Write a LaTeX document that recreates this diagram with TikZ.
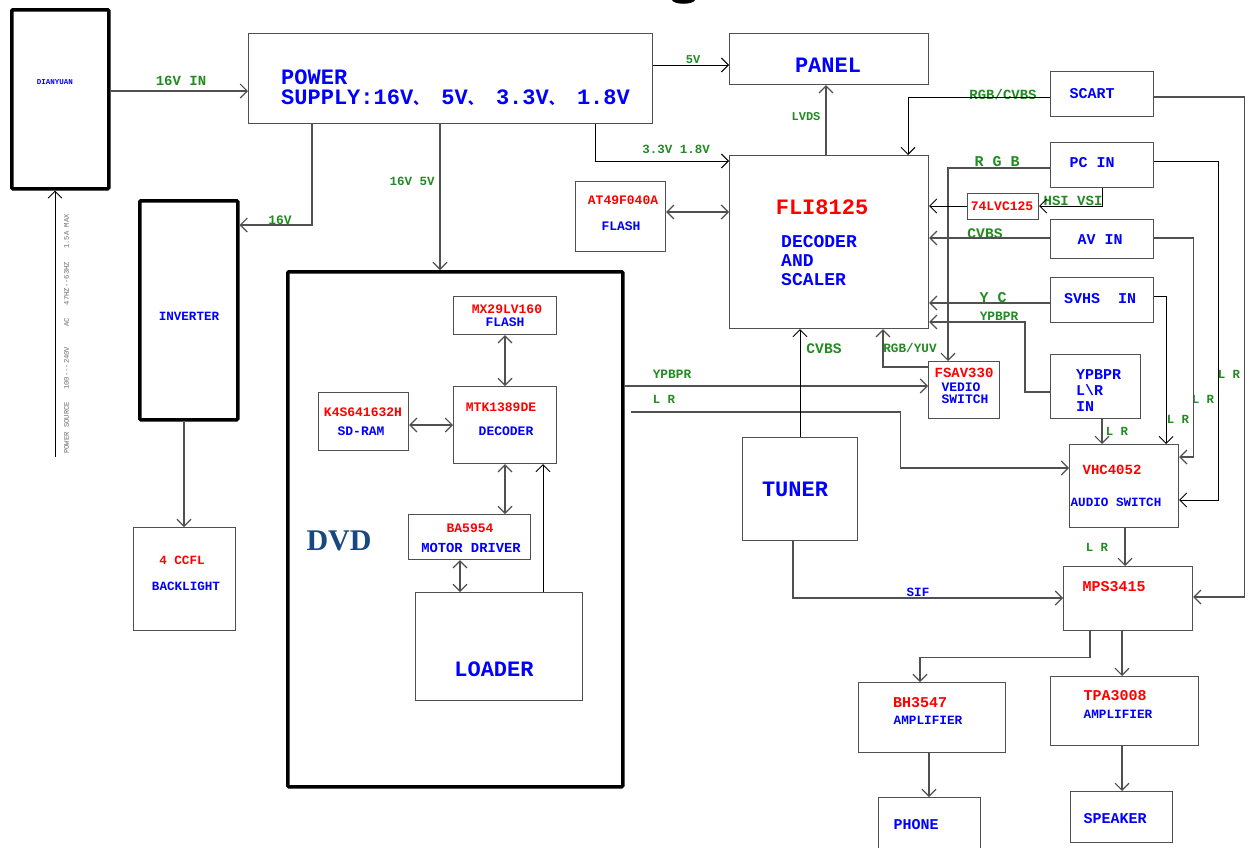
\documentclass[tikz,border=0pt]{standalone}
\usepackage{fontspec}
\newfontfamily\mono{Liberation Mono}
\newfontfamily\myserif{Liberation Serif}
\newfontfamily\cjk{Noto Sans CJK SC}
\usetikzlibrary{arrows.meta}
\definecolor{tblue}{RGB}{0,0,255}
\definecolor{tred}{RGB}{255,0,0}
\definecolor{tgreen}{RGB}{34,139,34}
\definecolor{dvdblue}{RGB}{25,72,128}
\definecolor{lgray}{RGB}{80,80,80}
\definecolor{pgray}{RGB}{110,110,110}
\newcommand\myfs[2]{\fontsize{#1}{#2}\selectfont}
\newcommand\dun{{\cjk\myfs{15}{15}、}}
\begin{document}
\begin{tikzpicture}[x=1pt,y=-1pt,
  box/.style={draw=lgray, line width=1.2pt, inner sep=0pt, anchor=north west},
  heavybox/.style={draw=black, line width=3.5pt, rounded corners=1pt, inner sep=0pt, anchor=north west},
  ln/.style={draw=lgray, line width=1.1pt},
  blk/.style={draw=black, line width=0.9pt},
  arr/.style={ln, -{Straight Barb[length=7pt,width=14pt]}},
  darr/.style={ln, {Straight Barb[length=7pt,width=14pt]}-{Straight Barb[length=7pt,width=14pt]}},
  txt/.style={font={\mono\bfseries\myfs{13}{15}}, inner sep=0pt},
  bl/.style={txt, text=tblue},
  rd/.style={txt, text=tred},
  gr/.style={txt, text=tgreen}]
\useasboundingbox (0,0) rectangle (1250,847);
\clip (0,0) rectangle (1250,847);
\fill[white] (0,0) rectangle (1250,847);
% clipped fragment at top
\fill[black] (672,0) .. controls (674,5) and (693,5) .. (695,0) -- cycle;

% ---------- boxes ----------
\node[heavybox, minimum width=97pt, minimum height=179pt] (dian) at (10,8) {};
\node[box, minimum width=404pt, minimum height=90pt] (ps) at (248,33) {};
\node[box, minimum width=199pt, minimum height=51pt] (panel) at (729,33) {};
\node[box, minimum width=199pt, minimum height=173pt] (fli) at (729,155) {};
\node[box, minimum width=90pt, minimum height=70pt] (at49) at (575,181) {};
\node[box, minimum width=103pt, minimum height=45pt] (scart) at (1050,71) {};
\node[box, minimum width=103pt, minimum height=45pt] (pcin) at (1050,142) {};
\node[box, minimum width=71pt, minimum height=26pt] (lvc) at (967,193) {};
\node[box, minimum width=103pt, minimum height=39pt] (avin) at (1050,219) {};
\node[box, minimum width=103pt, minimum height=45pt] (svhs) at (1050,277) {};
\node[box, minimum width=90pt, minimum height=64pt] (ypin) at (1050,354) {};
\node[box, minimum width=71pt, minimum height=57pt] (fsav) at (928,361) {};
\node[box, minimum width=115pt, minimum height=103pt] (tuner) at (742,437) {};
\node[box, minimum width=109pt, minimum height=83pt] (vhc) at (1069,444) {};
\node[box, minimum width=129pt, minimum height=64pt] (mps) at (1063,566) {};
\node[box, minimum width=147pt, minimum height=70pt] (bh) at (858,682) {};
\node[box, minimum width=148pt, minimum height=69pt] (tpa) at (1050,676) {};
\node[box, minimum width=102pt, minimum height=62pt] (phone) at (878,797) {};
\node[box, minimum width=102pt, minimum height=51pt] (spk) at (1070,791) {};
\node[heavybox, minimum width=98pt, minimum height=219pt] (inv) at (138,199) {};
\node[box, minimum width=102pt, minimum height=103pt] (ccfl) at (133,527) {};
\node[heavybox, minimum width=335pt, minimum height=515pt] (dvd) at (286,270) {};
\node[box, minimum width=103pt, minimum height=38pt] (mx) at (453,296) {};
\node[box, minimum width=103pt, minimum height=77pt] (mtk) at (453,386) {};
\node[box, minimum width=90pt, minimum height=58pt] (k4s) at (318,392) {};
\node[box, minimum width=122pt, minimum height=45pt] (ba) at (408,514) {};
\node[box, minimum width=167pt, minimum height=108pt] (loader) at (415,592) {};

% ---------- texts ----------
\node[bl, font={\mono\bfseries\myfs{7.5}{9}}] (tdian) at (55,82) {DIANYUAN};
\node[rotate=90, inner sep=0pt, text=pgray, font={\mono\myfs{7.2}{9}}] (tac) at (66.5,334)
  {POWER SOURCE\hspace{12pt}100{-}{-}{-}240V\hspace{20pt}AC\hspace{13pt}47HZ{-}{-}63HZ\hspace{13pt}1.5A MAX};
\node[bl, anchor=west, align=left, font={\mono\bfseries\myfs{22}{19.5}}] (tps) at (281,87.5)
  {POWER\\SUPPLY:16V\dun{} 5V\dun{} 3.3V\dun{} 1.8V};
\node[bl, font={\mono\bfseries\myfs{22}{24}}] (tpanel) at (828,65) {PANEL};
\node[rd, font={\mono\bfseries\myfs{22}{24}}] (tfli) at (822,207) {FLI8125};
\node[bl, anchor=west, align=left, font={\mono\bfseries\myfs{18}{19}}] (tdec) at (781,261) {DECODER\\AND\\SCALER};
\node[rd] (tat49) at (623,200) {AT49F040A};
\node[bl] (tat49b) at (621,226) {FLASH};
\node[bl, font={\mono\bfseries\myfs{15}{17}}] (tscart) at (1092,94) {SCART};
\node[bl, font={\mono\bfseries\myfs{15}{17}}] (tpc) at (1092,163) {PC IN};
\node[rd] (tlvc) at (1002,206) {74LVC125};
\node[bl, font={\mono\bfseries\myfs{15}{17}}] (tav) at (1100,240) {AV IN};
\node[bl, font={\mono\bfseries\myfs{15}{17}}] (tsvhs) at (1100,299) {SVHS\ \ IN};
\node[bl, anchor=west, align=left, font={\mono\bfseries\myfs{15}{16}}] (typin) at (1076,391) {YPBPR\\L\textbackslash R\\IN};
\node[rd, font={\mono\bfseries\myfs{14}{16}}] (tfsav) at (964,373) {FSAV330};
\node[bl] (tfsavb) at (961,387) {VEDIO};
\node[bl] (tfsavc) at (965,399) {SWITCH};
\node[bl, font={\mono\bfseries\myfs{22}{24}}] (ttuner) at (795,489) {TUNER};
\node[rd, font={\mono\bfseries\myfs{14}{16}}] (tvhc) at (1112,470) {VHC4052};
\node[bl, font={\mono\bfseries\myfs{12.6}{14}}] (tvhcb) at (1116,502) {AUDIO SWITCH};
\node[rd, font={\mono\bfseries\myfs{15}{17}}] (tmps) at (1114,587) {MPS3415};
\node[rd, font={\mono\bfseries\myfs{15}{17}}] (tbh) at (920,703) {BH3547};
\node[bl, font={\mono\bfseries\myfs{12.7}{14}}] (tbhb) at (928,720) {AMPLIFIER};
\node[rd, font={\mono\bfseries\myfs{15}{17}}] (ttpa) at (1115,696) {TPA3008};
\node[bl, font={\mono\bfseries\myfs{12.7}{14}}] (ttpab) at (1118,714) {AMPLIFIER};
\node[bl, font={\mono\bfseries\myfs{15}{17}}] (tphone) at (916,825) {PHONE};
\node[bl, font={\mono\bfseries\myfs{15}{17}}] (tspk) at (1115,819) {SPEAKER};
\node[bl, font={\mono\bfseries\myfs{12.6}{14}}] (tinv) at (189,316) {INVERTER};
\node[rd, font={\mono\bfseries\myfs{12.6}{14}}] (tccfl) at (182,560) {4 CCFL};
\node[bl, font={\mono\bfseries\myfs{12.6}{14}}] (tccflb) at (186,586) {BACKLIGHT};
\node[inner sep=0pt, text=dvdblue, font={\myserif\bfseries\myfs{30}{30}}] (tdvd) at (339,541) {DVD};
\node[rd] (tmx) at (507,309) {MX29LV160};
\node[bl] (tmxb) at (505,322) {FLASH};
\node[rd] (tmtk) at (501,407) {MTK1389DE};
\node[bl] (tmtkb) at (506,431) {DECODER};
\node[rd] (tk4s) at (363,412) {K4S641632H};
\node[bl] (tk4sb) at (361,431) {SD-RAM};
\node[rd] (tba) at (470,528) {BA5954};
\node[bl, font={\mono\bfseries\myfs{13.8}{15}}] (tbab) at (471,548) {MOTOR DRIVER};
\node[bl, font={\mono\bfseries\myfs{22}{24}}] (tloader) at (494,669) {LOADER};

% connector labels
\node[gr, font={\mono\bfseries\myfs{14}{16}}] (l16in) at (181,81) {16V IN};
\node[gr, font={\mono\bfseries\myfs{12}{14}}] (l5v) at (693,60) {5V};
\node[gr, font={\mono\bfseries\myfs{12.5}{14}}] (l33) at (676,149) {3.3V 1.8V};
\node[gr, font={\mono\bfseries\myfs{12}{14}}] (llvds) at (806,117) {LVDS};
\node[gr] (l16) at (280,220) {16V};
\node[gr, font={\mono\bfseries\myfs{12.5}{14}}] (l165) at (412,181) {16V 5V};
\node[gr, font={\mono\bfseries\myfs{14}{16}}] (lrgbcvbs) at (1003,94) {RGB/CVBS};
\node[gr, font={\mono\bfseries\myfs{15}{17}}] (lrgb) at (997,162) {R G B};
\node[gr, font={\mono\bfseries\myfs{14}{16}}] (lhsi) at (1073,201) {HSI VSI};
\node[gr, font={\mono\bfseries\myfs{14.6}{16}}] (lcvbs) at (985,234) {CVBS};
\node[gr, font={\mono\bfseries\myfs{15}{17}}] (lyc) at (993,298) {Y C};
\node[gr, font={\mono\bfseries\myfs{12.8}{14}}] (lyp) at (999,316) {YPBPR};
\node[gr, font={\mono\bfseries\myfs{12.7}{14}}] (lrgbyuv) at (910,348) {RGB/YUV};
\node[gr, font={\mono\bfseries\myfs{14.6}{16}}] (lcvbs2) at (824,349) {CVBS};
\node[gr, font={\mono\bfseries\myfs{12.8}{14}}] (lyp2) at (672,374) {YPBPR};
\node[gr, font={\mono\bfseries\myfs{12.4}{14}}] (llr1) at (664,399) {L R};
\node[bl, font={\mono\bfseries\myfs{12.6}{14}}] (lsif) at (918,592) {SIF};
\node[gr, font={\mono\bfseries\myfs{12.4}{14}}] (llr2) at (1117,431) {L R};
\node[gr, font={\mono\bfseries\myfs{12.4}{14}}] (llr3) at (1178,419) {L R};
\node[gr, font={\mono\bfseries\myfs{12.4}{14}}] (llr4) at (1203,399) {L R};
\node[gr, font={\mono\bfseries\myfs{12.4}{14}}] (llr5) at (1229,374) {L R};
\node[gr, font={\mono\bfseries\myfs{12.4}{14}}] (llr6) at (1097,547) {L R};

% ---------- connectors ----------
\coordinate (acin) at (55,457);
\draw[arr, blk] (acin) -- (acin |- dian.south);
\draw[arr] ([yshift=-83pt]dian.north east) -- ([yshift=-58pt]ps.north west);
\draw[arr, blk] ([yshift=-32pt]ps.north east) -- ([yshift=-32pt]panel.north west);
\draw[arr, blk] ([xshift=347pt]ps.south west) |- ([yshift=-6pt]fli.north west);
\draw[arr] ([xshift=97pt]fli.north west) -- ([xshift=97pt]panel.south west);
\draw[arr] ([xshift=64pt]ps.south west) |- ([yshift=-26pt]inv.north east);
\draw[arr] ([xshift=192pt]ps.south west) -- ([xshift=154pt]dvd.north west);
\draw[arr] ([xshift=46pt]inv.south west) -- ([xshift=51pt]ccfl.north west);
\draw[darr] ([yshift=-31pt]at49.north east) -- ([yshift=-57pt]fli.north west);
\draw[arr, blk] ([yshift=-26pt]scart.north west) -| ([xshift=179pt]fli.north west);
\draw[arr] ([yshift=-26pt]scart.north east) -- ++(90,0) |- ([yshift=-31pt]mps.north east);
\draw[arr] ([yshift=-26pt]pcin.north west) -| ([xshift=20pt]fsav.north west);
\draw[arr, blk] ([yshift=-19pt]pcin.north east) -- ++(64,0) |- ([yshift=-56pt]vhc.north east);
\draw[arr, blk] ([xshift=52pt]pcin.south west) |- ([yshift=-13pt]lvc.north east);
\draw[arr, blk] ([yshift=-13pt]lvc.north west) -- ([yshift=-51pt]fli.north east);
\draw[arr] ([yshift=-19pt]avin.north west) -- ([yshift=-83pt]fli.north east);
\draw[arr] ([yshift=-19pt]avin.north east) -- ++(39,0) |- ([yshift=-13pt]vhc.north east);
\draw[arr] ([yshift=-26pt]svhs.north west) -- ([yshift=-148pt]fli.north east);
\draw[arr, blk] ([yshift=-19pt]svhs.north east) -| ([xshift=97pt]vhc.north west);
\draw[arr] ([yshift=-38pt]ypin.north west) -- ++(-25,0) |- ([yshift=-167pt]fli.north east);
\draw[arr] ([xshift=52pt]ypin.south west) -- ([xshift=33pt]vhc.north west);
\draw[arr] ([yshift=-6pt]fsav.north west) -| ([xshift=154pt]fli.south west);
\draw[arr] ([yshift=-116pt]dvd.north east) -- ([yshift=-25pt]fsav.north west);
\draw[arr] ([xshift=6pt,yshift=-142pt]dvd.north east) -- ++(270,0) |- ([yshift=-24pt]vhc.north west);
\draw[arr, blk] ([xshift=58pt]tuner.north west) -- ([xshift=71pt]fli.south west);
\draw[arr] ([xshift=51pt]tuner.south west) |- ([yshift=-32pt]mps.north west);
\draw[arr] ([xshift=56pt]vhc.south west) -- ([xshift=62pt]mps.north west);
\draw[arr] ([xshift=27pt]mps.south west) -- ++(0,26) -| ([xshift=62pt]bh.north west);
\draw[arr] ([xshift=59pt]mps.south west) -- ([xshift=72pt]tpa.north west);
\draw[arr] ([xshift=71pt]bh.south west) -- ([xshift=51pt]phone.north west);
\draw[arr] ([xshift=72pt]tpa.south west) -- ([xshift=52pt]spk.north west);
\draw[darr] ([xshift=52pt]mx.south west) -- ([xshift=52pt]mtk.north west);
\draw[darr] ([yshift=-33pt]k4s.north east) -- ([yshift=-39pt]mtk.north west);
\draw[darr] ([xshift=52pt]mtk.south west) -- ([xshift=97pt]ba.north west);
\draw[darr] ([xshift=52pt]ba.south west) -- ([xshift=45pt]loader.north west);
\draw[arr, blk] ([xshift=128pt]loader.north west) -- ([xshift=90pt]mtk.south west);
\end{tikzpicture}
\end{document}
